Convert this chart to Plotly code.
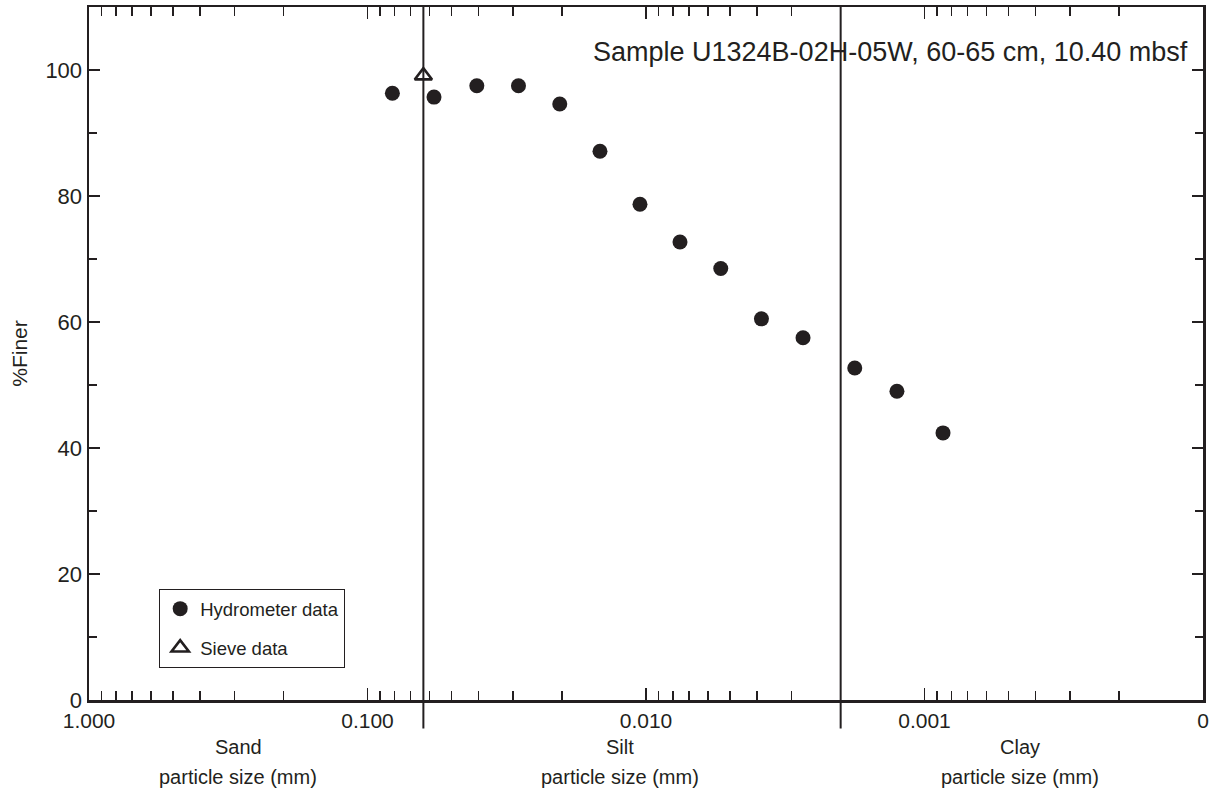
import plotly.graph_objects as go

# ---- data ----
hydro_size_mm = [0.0814, 0.0577, 0.0405, 0.0287, 0.0204, 0.01463, 0.01051, 0.00755,
                 0.00539, 0.00385, 0.00273, 0.00178, 0.001256, 0.000858]
hydro_finer = [96.3, 95.7, 97.5, 97.5, 94.6, 87.1, 78.7, 72.7, 68.5, 60.5, 57.5, 52.7, 49.0, 42.4]
sieve_size_mm = [0.063]
sieve_finer = [99.1]

boundaries_mm = [0.063, 0.002]          # sand/silt and silt/clay
x_tick_vals = [1, 0.1, 0.01, 0.001, 0.0001]
x_tick_text = ["1.000", "0.100", "0.010", "0.001", "0"]
x_minor_vals = [k * 10.0 ** (-n) for n in range(1, 5) for k in range(2, 10)]
y_tick_vals = [0, 20, 40, 60, 80, 100]
class_names = ["Sand", "Silt", "Clay"]
class_centers_paper = [0.134, 0.477, 0.836]
sample_label = "Sample U1324B-02H-05W, 60-65 cm, 10.40 mbsf"

INK = "#231f20"
FONT = "Liberation Sans, Arial, Helvetica, sans-serif"

fig = go.Figure()
fig.add_trace(go.Scatter(
    x=hydro_size_mm, y=hydro_finer, mode="markers", name="Hydrometer data",
    legendgroup="a",
    marker=dict(symbol="circle", size=15, color=INK, line=dict(width=0)),
))
fig.add_trace(go.Scatter(
    x=sieve_size_mm, y=sieve_finer, mode="markers", name="Sieve data",
    legendgroup="b",
    marker=dict(symbol="triangle-up-open", size=15, color=INK, line=dict(width=2.6, color=INK)),
))

for b in boundaries_mm:
    fig.add_shape(type="line", xref="x", yref="paper", x0=b, x1=b, y0=-0.041, y1=1,
                  line=dict(color=INK, width=2), layer="above")

fig.add_annotation(text=sample_label, xref="paper", yref="paper", x=0.988, y=0.935,
                   xanchor="right", yanchor="middle", showarrow=False,
                   font=dict(size=27, color=INK, family=FONT))

for name, cx in zip(class_names, class_centers_paper):
    fig.add_annotation(text=name, xref="paper", yref="paper", x=cx, y=-0.068,
                       xanchor="center", yanchor="middle", showarrow=False,
                       font=dict(size=20, color=INK, family=FONT))
    fig.add_annotation(text="particle size (mm)", xref="paper", yref="paper", x=cx, y=-0.111,
                       xanchor="center", yanchor="middle", showarrow=False,
                       font=dict(size=20, color=INK, family=FONT))

fig.update_layout(
    width=1214, height=804,
    margin=dict(l=89, r=11, t=7, b=104, autoexpand=False),
    paper_bgcolor="white", plot_bgcolor="white",
    font=dict(family=FONT, color=INK, size=20),
    showlegend=True,
    legend=dict(x=0.063, y=0.046, xanchor="left", yanchor="bottom",
                bordercolor=INK, borderwidth=1, bgcolor="white",
                tracegroupgap=12,
                font=dict(size=18.5, color=INK, family=FONT)),
)
fig.update_xaxes(
    type="log", range=[0, -4], automargin=False,
    tickmode="array", tickvals=x_tick_vals, ticktext=x_tick_text,
    ticks="inside", ticklen=12, tickwidth=1.5, tickcolor=INK,
    minor=dict(tickmode="array", tickvals=x_minor_vals, ticks="inside",
               ticklen=9, tickwidth=1.5, tickcolor=INK, showgrid=False),
    showline=True, linecolor=INK, linewidth=2.5, mirror="allticks",
    showgrid=False, zeroline=False,
    tickfont=dict(size=21, color=INK, family=FONT),
)
fig.update_yaxes(
    range=[0, 110], automargin=False,
    tickmode="array", tickvals=y_tick_vals,
    ticks="inside", ticklen=11, tickwidth=1.5, tickcolor=INK,
    minor=dict(dtick=10, tick0=0, ticks="inside", ticklen=8, tickwidth=1.5,
               tickcolor=INK, showgrid=False),
    showline=True, linecolor=INK, linewidth=2.5, mirror="allticks",
    showgrid=False, zeroline=False,
    title=dict(text="%Finer", font=dict(size=21, color=INK, family=FONT), standoff=12),
    tickfont=dict(size=22, color=INK, family=FONT),
)

# remove the default 8px body margin of the page so the figure sits at (0, 0)
fig.write_html("out.html",
               config={"displayModeBar": False, "staticPlot": True},
               post_script="document.body.style.margin='0';document.body.style.overflow='hidden';")
